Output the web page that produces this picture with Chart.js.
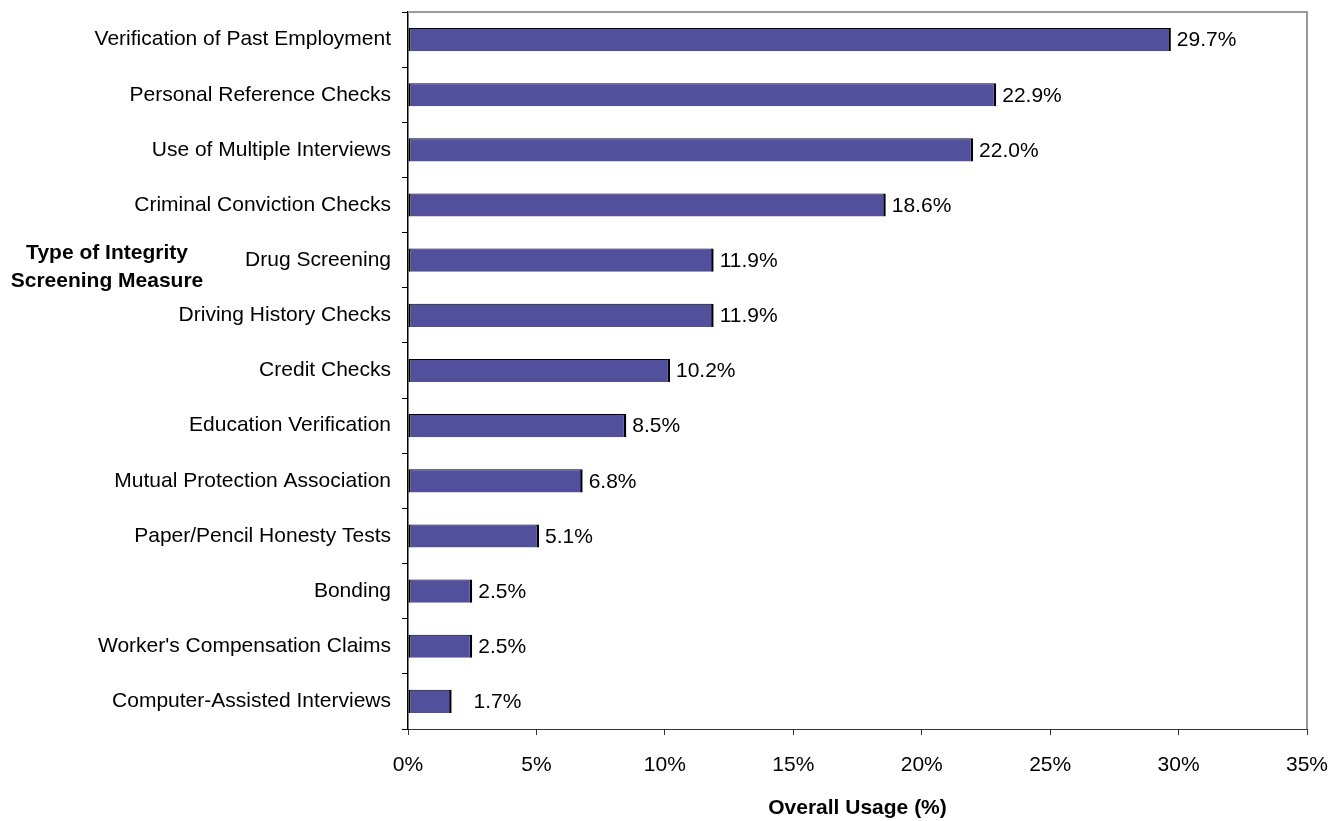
<!DOCTYPE html>
<html>
<head>
<meta charset="utf-8">
<script src="https://cdn.jsdelivr.net/npm/chart.js@4"></script>
<style>
  html, body { margin: 0; padding: 0; background: #fff; }
  #wrap { width: 1338px; height: 821px; }
</style>
</head>
<body>
<div id="wrap"><canvas id="usageChart" width="1338" height="821"></canvas></div>
<script>
const measures = [
  "Verification of Past Employment",
  "Personal Reference Checks",
  "Use of Multiple Interviews",
  "Criminal Conviction Checks",
  "Drug Screening",
  "Driving History Checks",
  "Credit Checks",
  "Education Verification",
  "Mutual Protection Association",
  "Paper/Pencil Honesty Tests",
  "Bonding",
  "Worker's Compensation Claims",
  "Computer-Assisted Interviews"
];
const usage = [29.7, 22.9, 22.0, 18.6, 11.9, 11.9, 10.2, 8.5, 6.8, 5.1, 2.5, 2.5, 1.7];
const xTicks = [0, 5, 10, 15, 20, 25, 30, 35];
const yTitleLines = ["Type of Integrity", "Screening Measure"];
const xTitle = "Overall Usage (%)";

const FONT = 'Arial, "Liberation Sans", sans-serif';

// gray frame on top and right of the plot
const frame = {
  id: "frame",
  afterDraw(chart) {
    const { ctx, chartArea: a } = chart;
    ctx.save();
    ctx.strokeStyle = "#9a9a9a";
    ctx.lineWidth = 2;
    ctx.beginPath();
    ctx.moveTo(a.left, a.top);
    ctx.lineTo(a.right, a.top);
    ctx.lineTo(a.right, a.bottom);
    ctx.stroke();
    ctx.restore();
  }
};

// percentage text at the end of each bar
const barLabels = {
  id: "barLabels",
  afterDatasetsDraw(chart) {
    const { ctx } = chart;
    const xs = chart.scales.x;
    const meta = chart.getDatasetMeta(0);
    const minX = xs.getPixelForValue(2.55);
    ctx.save();
    ctx.font = "21px " + FONT;
    ctx.fillStyle = "#000";
    ctx.textAlign = "left";
    ctx.textBaseline = "middle";
    meta.data.forEach((bar, i) => {
      const x = Math.max(xs.getPixelForValue(usage[i]) + 6, minX);
      ctx.fillText(usage[i].toFixed(1) + "%", x, bar.y + 1);
    });
    ctx.restore();
  }
};

// horizontal y-axis title on the left
const yTitle = {
  id: "yTitle",
  afterDraw(chart) {
    const { ctx } = chart;
    ctx.save();
    ctx.font = "bold 21px " + FONT;
    ctx.fillStyle = "#000";
    ctx.textAlign = "center";
    ctx.textBaseline = "middle";
    yTitleLines.forEach((line, i) => ctx.fillText(line, 107, 253 + i * 28));
    ctx.restore();
  }
};

new Chart(document.getElementById("usageChart"), {
  type: "bar",
  data: {
    labels: measures,
    datasets: [{
      data: usage,
      backgroundColor: "#524f9d",
      borderColor: "#000",
      borderWidth: { top: 1, right: 2.5, bottom: 0, left: 2 },
      borderSkipped: false,
      barPercentage: 0.42,
      categoryPercentage: 1
    }]
  },
  options: {
    indexAxis: "y",
    responsive: false,
    animation: false,
    layout: { padding: { left: 0, right: 31, top: 12, bottom: 0 } },
    plugins: {
      legend: { display: false },
      tooltip: { enabled: false }
    },
    scales: {
      x: {
        min: 0,
        max: 35,
        afterBuildTicks(scale) {
          scale.ticks = xTicks.map(v => ({ value: v }));
        },
        afterFit(scale) {
          scale.height = 92;
          scale.paddingLeft = 0;
          scale.paddingRight = 0;
        },
        border: { color: "#333", width: 1 },
        grid: { drawOnChartArea: false, color: "#333", tickLength: 6 },
        ticks: {
          padding: 18,
          color: "#000",
          font: { family: FONT, size: 21 },
          callback: v => v + "%"
        },
        title: {
          display: true,
          text: xTitle,
          color: "#000",
          padding: { top: 0, bottom: 0 },
          font: { family: FONT, size: 21, weight: "bold" }
        }
      },
      y: {
        afterFit(scale) {
          scale.width = 408;
          scale.paddingTop = 0;
          scale.paddingBottom = 0;
        },
        border: { color: "#000", width: 1.5 },
        grid: { drawOnChartArea: false, offset: true, color: "#000", tickLength: 6 },
        ticks: {
          padding: 11,
          color: "#000",
          font: { family: FONT, size: 21 }
        }
      }
    }
  },
  plugins: [frame, barLabels, yTitle]
});
</script>
</body>
</html>
